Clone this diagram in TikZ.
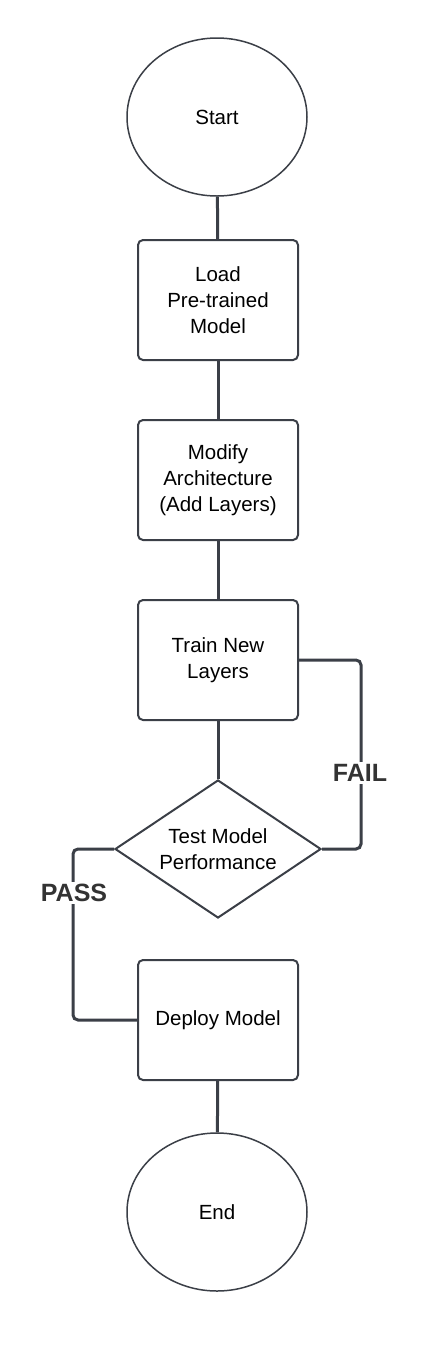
\documentclass[tikz,border=0pt]{standalone}
\usepackage{fontspec}
\setmainfont{Liberation Sans}
\usetikzlibrary{shapes.geometric}
\definecolor{linec}{HTML}{3B3F47}
\definecolor{lblc}{HTML}{333333}
\begin{document}
\begin{tikzpicture}[x=1pt,y=-1pt,
  every node/.style={font=\fontsize{20.5}{26}\selectfont, align=center, text=black},
  terminal/.style={ellipse, draw=linec, line width=1.5pt, minimum width=180pt, minimum height=158pt, inner sep=0pt},
  process/.style={rectangle, draw=linec, line width=2pt, rounded corners=5pt, minimum width=160pt, minimum height=120pt, inner sep=0pt},
  decision/.style={diamond, draw=linec, line width=2pt, aspect=1.5, minimum width=206pt, minimum height=138pt, inner sep=0pt},
  conn/.style={draw=linec, line width=3pt, rounded corners=5pt},
  lbl/.style={font=\fontsize{25}{30}\selectfont\bfseries, text=lblc, fill=white, inner sep=2pt}
]
\useasboundingbox (0,0) rectangle (430,1350);
\node[terminal] (start) at (217,117) {Start};
\node[process] (load) at (218,300) {Load\\Pre-trained\\Model};
\node[process] (modify) at (218,480) {Modify\\Architecture\\(Add Layers)};
\node[process] (train) at (218,660) {Train New\\Layers};
\node[decision] (test) at (218,849) {Test Model\\Performance};
\node[process] (deploy) at (218,1020) {Deploy Model};
\node[terminal] (end) at (217,1212) {End};

\draw[conn] (start) -- (load);
\draw[conn] (load) -- (modify);
\draw[conn] (modify) -- (train);
\draw[conn] (train) -- (test);
\draw[conn] (deploy) -- (end);
\draw[conn] (train.east) -- ++(62,0) |- (test.east);
\draw[conn] (test.west) -- ++(-41,0) |- (deploy.west);
\node[lbl] (fail) at (360,773) {FAIL};
\node[lbl] (pass) at (74,893) {PASS};
\end{tikzpicture}
\end{document}
